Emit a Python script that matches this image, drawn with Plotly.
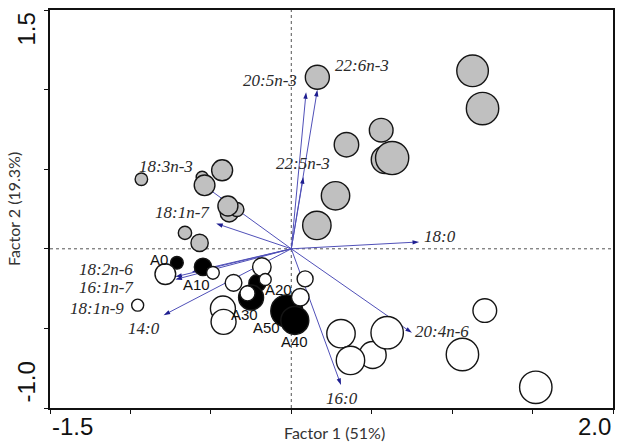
import plotly.graph_objects as go

# ---- data (factor scores) ----
grey_x = [1.127, 1.189, 0.559, 0.343, 0.583, 0.627, 0.275, 0.159, 0.162,
          -0.430, -0.554, -0.539, -0.386, -0.338, -0.394, -0.932, -0.661, -0.570]
grey_y = [1.118, 0.881, 0.745, 0.654, 0.560, 0.570, 0.333, 0.147, 1.078,
          0.493, 0.449, 0.399, 0.225, 0.247, 0.269, 0.437, 0.100, 0.037]
grey_s = [31.6, 32.4, 23.7, 24.5, 27.6, 33.2, 28.4, 28.4, 24.0,
          21.0, 12.0, 20.7, 18.0, 14.0, 20.0, 12.5, 13.3, 17.3]

black_names = ["A0", "A10", "A20", "A30", "A50", "A40"]
black_x = [-0.711, -0.549, -0.211, -0.250, -0.028, 0.022]
black_y = [-0.088, -0.114, -0.216, -0.306, -0.390, -0.450]
black_s = [12.7, 17.3, 17.0, 25.0, 32.0, 28.0]
black_lab_x = [-0.820, -0.590, -0.082, -0.290, -0.152, 0.019]
black_lab_y = [-0.065, -0.224, -0.254, -0.410, -0.496, -0.580]

white_x = [-0.783, -0.487, -0.359, -0.183, -0.162, -0.272, 0.086, 0.056, -0.955,
           -0.425, -0.421, 0.309, 0.506, 0.368, 0.596, 1.203, 1.064, 1.520]
white_y = [-0.159, -0.151, -0.214, -0.114, -0.193, -0.280, -0.189, -0.304, -0.354,
           -0.375, -0.459, -0.533, -0.667, -0.701, -0.527, -0.388, -0.664, -0.870]
white_s = [20.7, 12.7, 16.7, 18.5, 12.0, 15.0, 16.0, 17.5, 12.0,
           25.0, 25.0, 28.4, 27.0, 28.4, 32.4, 23.7, 32.4, 32.4]

# ---- loadings (fatty acid vectors) ----
fa_names = ["20:5n-3", "22:6n-3", "22:5n-3", "18:3n-3", "18:1n-7", "18:0",
            "18:2n-6", "16:1n-7", "18:1n-9", "14:0", "16:0", "20:4n-6"]
fa_x = [0.092, 0.162, 0.075, -0.597, -0.467, 0.795,
        -0.618, -0.721, -0.721, -0.794, 0.309, 0.750]
fa_y = [0.984, 0.999, 0.451, 0.437, 0.159, 0.043,
        -0.145, -0.176, -0.193, -0.417, -0.856, -0.528]
fa_lab_x = [0.050, 0.261, 0.073, -0.781, -0.677, 0.810,
            -1.151, -1.151, -1.207, -0.918, 0.316, 0.758]
fa_lab_y = [1.058, 1.152, 0.535, 0.514, 0.231, 0.079,
            -0.130, -0.243, -0.373, -0.500, -0.942, -0.521]
fa_lab_anchor = ["right", "left", "center", "center", "center", "left",
                 "center", "center", "center", "center", "center", "left"]

x_tick_vals = [-1.5, -1.0, -0.5, 0.0, 0.5, 1.0, 1.5, 2.0]
y_tick_vals = [-1.0, -0.5, 0.0, 0.5, 1.0, 1.5]

fig = go.Figure()

# vectors (drawn first so circles cover them)
for name, vx, vy in zip(fa_names, fa_x, fa_y):
    fig.add_trace(go.Scatter(
        x=[0, vx], y=[0, vy], mode="lines+markers",
        line=dict(color="#5050b8", width=1),
        marker=dict(symbol="arrow", size=[0, 7], angleref="previous",
                    color="#1e1e90", line=dict(width=0), opacity=1),
        hoverinfo="skip", showlegend=False))

outline = dict(color="#151515", width=1.4)
fig.add_trace(go.Scatter(x=grey_x, y=grey_y, mode="markers",
                         marker=dict(size=grey_s, color="#c0c0c0", line=outline,
                                     opacity=1),
                         showlegend=False))
fig.add_trace(go.Scatter(x=black_x, y=black_y, mode="markers",
                         marker=dict(size=black_s, color="#000000", line=outline,
                                     opacity=1),
                         showlegend=False))
fig.add_trace(go.Scatter(x=white_x, y=white_y, mode="markers",
                         marker=dict(size=white_s, color="#ffffff", line=outline,
                                     opacity=1),
                         showlegend=False))

ann = []
for name, lx, ly, anc in zip(fa_names, fa_lab_x, fa_lab_y, fa_lab_anchor):
    ann.append(dict(x=lx, y=ly, xref="x", yref="y", text="<i>" + name + "</i>",
                    showarrow=False, xanchor=anc, yanchor="middle",
                    font=dict(family="Liberation Serif", size=17, color="#2a2a2a")))

for name, lx, ly in zip(black_names, black_lab_x, black_lab_y):
    ann.append(dict(x=lx, y=ly, xref="x", yref="y", text=name, showarrow=False,
                    xanchor="center", yanchor="middle",
                    font=dict(family="Liberation Sans", size=15, color="#111111")))

tickfont = dict(family="Liberation Sans", size=24, color="#111111")
titlefont = dict(family="Lato", size=16, color="#333333")
ann += [
    dict(x=-1.5, y=0, xref="x", yref="paper", text="-1.5", showarrow=False,
         xanchor="left", yanchor="top", yshift=-3, font=tickfont),
    dict(x=2.0, y=0, xref="x", yref="paper", text="2.0", showarrow=False,
         xanchor="right", yanchor="top", yshift=-3, font=tickfont),
    dict(x=0, y=1.5, xref="paper", yref="y", text="1.5", showarrow=False,
         textangle=-90, xanchor="center", yanchor="top", xshift=-24, yshift=-1,
         font=tickfont),
    dict(x=0, y=-1.0, xref="paper", yref="y", text="-1.0", showarrow=False,
         textangle=-90, xanchor="center", yanchor="bottom", xshift=-24, yshift=3,
         font=tickfont),
    dict(x=0.5, y=0, xref="paper", yref="paper", text="Factor 1 (51%)",
         showarrow=False, xanchor="center", yanchor="middle", xshift=3, yshift=-24,
         font=titlefont),
    dict(x=0, y=0.5, xref="paper", yref="paper", text="Factor 2 (19.3%)",
         showarrow=False, textangle=-90, xanchor="center", yanchor="middle",
         xshift=-37, font=titlefont),
]

fig.update_layout(
    width=620, height=443,
    margin=dict(l=50, r=7, t=10, b=35, autoexpand=False),
    paper_bgcolor="white", plot_bgcolor="white",
    annotations=ann,
    shapes=[
        dict(type="line", xref="x", yref="paper", x0=0, x1=0, y0=0, y1=1,
             line=dict(color="#555555", width=1, dash="dot"), layer="below"),
        dict(type="line", xref="paper", yref="y", x0=0, x1=1, y0=0, y1=0,
             line=dict(color="#555555", width=1, dash="dot"), layer="below"),
    ],
)
fig.update_xaxes(range=[-1.5, 2.0], tickvals=x_tick_vals, showticklabels=False,
                 ticks="outside", ticklen=4, tickcolor="#111", showgrid=False,
                 zeroline=False, showline=True, mirror=True, linecolor="#111",
                 linewidth=1.5)
fig.update_yaxes(range=[-1.0, 1.5], tickvals=y_tick_vals, showticklabels=False,
                 ticks="outside", ticklen=4, tickcolor="#111", showgrid=False,
                 zeroline=False, showline=True, mirror=True, linecolor="#111",
                 linewidth=1.5)

fig.write_html("out.html",
               config={"displayModeBar": False},
               post_script="document.body.style.margin='0';"
                           "document.body.style.overflow='hidden';")
